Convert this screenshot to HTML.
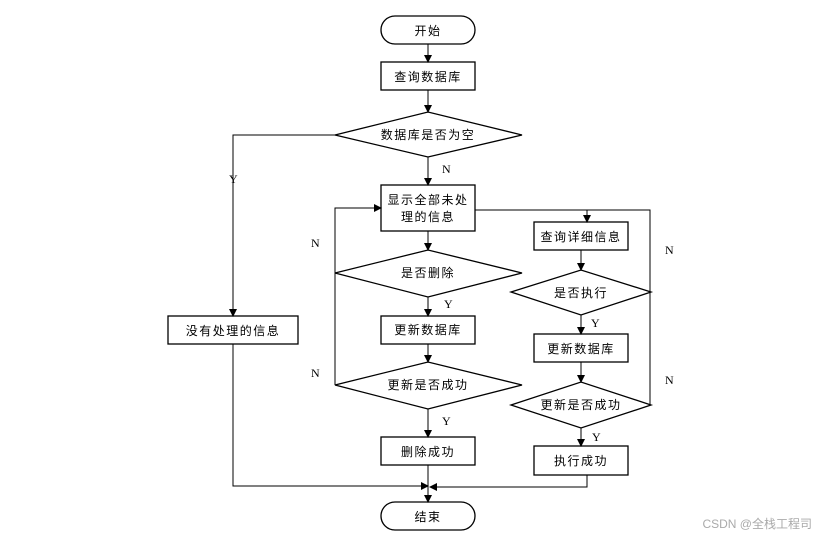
<!DOCTYPE html>
<html><head><meta charset="utf-8"><style>body{margin:0;background:#fff}svg{display:block}</style></head>
<body>
<svg width="825" height="539" xmlns="http://www.w3.org/2000/svg" font-family="'Liberation Sans','Noto Sans CJK SC',sans-serif" font-size="12">
<defs><marker id="a" markerWidth="8" markerHeight="8" refX="7" refY="4" orient="auto" markerUnits="userSpaceOnUse"><path d="M0,0 L8,4 L0,8 z" fill="#000"/></marker></defs>
<g fill="#fff" stroke="#000" stroke-width="1.3">
<rect x="381" y="16" width="94" height="28" rx="14"/>
<rect x="381" y="62" width="94" height="28"/>
<polygon points="335,135 428,112 522,135 428,157"/>
<rect x="381" y="185" width="94" height="46"/>
<polygon points="335,273 428,250 522,273 428,297"/>
<rect x="381" y="316" width="94" height="28"/>
<polygon points="335,385 428,362 522,385 428,409"/>
<rect x="381" y="437" width="94" height="28"/>
<rect x="534" y="222" width="94" height="28"/>
<polygon points="511,292 581,270 651,292 581,315"/>
<rect x="534" y="334" width="94" height="28"/>
<polygon points="511,405 581,382 651,405 581,428"/>
<rect x="534" y="446" width="94" height="29"/>
<rect x="168" y="316" width="130" height="28"/>
<rect x="381" y="502" width="94" height="28" rx="14"/>
</g>
<g fill="none" stroke="#000" stroke-width="1">
<path d="M428,44V62" marker-end="url(#a)"/>
<path d="M428,90V112" marker-end="url(#a)"/>
<path d="M428,157V185" marker-end="url(#a)"/>
<path d="M335,135H233V316" marker-end="url(#a)"/>
<path d="M428,231V250" marker-end="url(#a)"/>
<path d="M428,297V316" marker-end="url(#a)"/>
<path d="M428,344V362" marker-end="url(#a)"/>
<path d="M428,409V437" marker-end="url(#a)"/>
<path d="M335,273V208H381" marker-end="url(#a)"/>
<path d="M335,385V273"/>
<path d="M475,210H650V292"/>
<path d="M650,405V292"/>
<path d="M600,210H587"/>
<path d="M587,210V222" marker-end="url(#a)"/>
<path d="M581,250V270" marker-end="url(#a)"/>
<path d="M581,315V334" marker-end="url(#a)"/>
<path d="M581,362V382" marker-end="url(#a)"/>
<path d="M581,428V446" marker-end="url(#a)"/>
<path d="M233,344V486H428" marker-end="url(#a)"/>
<path d="M587,475V487H430" marker-end="url(#a)"/>
<path d="M428,465V502" marker-end="url(#a)"/>
</g>
<g text-anchor="middle" letter-spacing="1.5">
<text x="428" y="35">开始</text>
<text x="428" y="81">查询数据库</text>
<text x="428" y="139">数据库是否为空</text>
<text x="428" y="204">显示全部未处</text>
<text x="428" y="221">理的信息</text>
<text x="428" y="277">是否删除</text>
<text x="428" y="334">更新数据库</text>
<text x="428" y="389">更新是否成功</text>
<text x="428" y="456">删除成功</text>
<text x="581" y="241">查询详细信息</text>
<text x="581" y="297">是否执行</text>
<text x="581" y="353">更新数据库</text>
<text x="581" y="409">更新是否成功</text>
<text x="581" y="465">执行成功</text>
<text x="233" y="335">没有处理的信息</text>
<text x="428" y="521">结束</text>
</g>
<g font-family="'Liberation Serif',serif" font-size="12">
<text x="442" y="173">N</text><text x="229" y="183">Y</text>
<text x="311" y="247">N</text><text x="311" y="377">N</text>
<text x="444" y="308">Y</text><text x="442" y="425">Y</text>
<text x="665" y="254">N</text><text x="665" y="384">N</text>
<text x="591" y="327">Y</text><text x="592" y="441">Y</text>
</g>
<text x="812" y="528" text-anchor="end" font-size="12" fill="#aaa">CSDN @全栈工程司</text>
</svg>
</body></html>
